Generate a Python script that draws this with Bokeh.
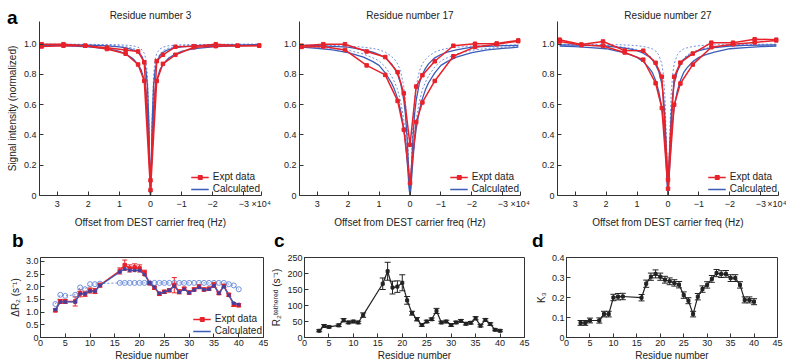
from bokeh.plotting import figure
from bokeh.layouts import column, row
from bokeh.models import (Range1d, FixedTicker, Legend, LegendItem, Whisker, Div,
                          TeeHead, ColumnDataSource, CustomJSTickFormatter)
from bokeh.embed import file_html
from bokeh.resources import INLINE

FONT = "Liberation Sans"
RED = "#e8222a"
BLUE = "#3b5cb8"
BLUE_DOT = "#6f8fdc"
AXC = "#333333"

# ---------------- Panel a data ----------------
offsets_hz = [35000, 28000, 21000, 14000, 8000, 4000, 2000, 0,
              -2000, -4000, -8000, -14000, -21000, -28000, -35000]
# calculated profiles (positive half, symmetric about 0)
calc_offsets_hz = [35000, 30000, 25000, 20000, 15000, 12000, 10000, 8000, 6000,
                   5000, 4000, 3000, 2000, 1500, 1000, 500, 200, 0]

res3_expt_a = [1.0, 1.0, 0.99, 0.977, 0.962, 0.952, 0.88, 0.10, 0.888, 0.93, 0.983, 0.987, 1.0, 0.99, 0.99]
res3_expt_b = [0.985, 0.99, 0.99, 0.968, 0.937, 0.866, 0.757, 0.035, 0.757, 0.87, 0.93, 0.98, 0.987, 0.99, 0.992]
res3_calc_broad = [0.993, 0.99, 0.987, 0.982, 0.972, 0.962, 0.952, 0.935, 0.91, 0.89, 0.866, 0.83, 0.76, 0.70, 0.58, 0.33, 0.10, 0.0]
res3_calc_narrow = [0.997, 0.996, 0.995, 0.993, 0.99, 0.986, 0.982, 0.975, 0.965, 0.957, 0.945, 0.925, 0.88, 0.83, 0.73, 0.46, 0.16, 0.0]
res3_dot_1 = [1.0, 1.0, 1.0, 0.999, 0.998, 0.997, 0.996, 0.994, 0.99, 0.986, 0.98, 0.968, 0.94, 0.9, 0.8, 0.5, 0.15, 0.0]
res3_dot_2 = [0.999, 0.999, 0.998, 0.997, 0.995, 0.992, 0.989, 0.984, 0.975, 0.968, 0.957, 0.935, 0.89, 0.84, 0.72, 0.42, 0.12, 0.0]

res17_expt_a = [0.99, 1.0, 1.0, 0.952, 0.915, 0.815, 0.675, 0.335, 0.72, 0.795, 0.887, 0.99, 1.003, 1.005, 1.025]
res17_expt_b = [0.982, 0.985, 0.962, 0.86, 0.797, 0.625, 0.435, 0.082, 0.485, 0.615, 0.757, 0.92, 0.982, 1.0, 1.02]
res17_calc_broad = [0.98, 0.972, 0.962, 0.945, 0.915, 0.885, 0.86, 0.81, 0.745, 0.70, 0.64, 0.56, 0.44, 0.36, 0.25, 0.11, 0.03, 0.0]
res17_calc_narrow = [0.992, 0.99, 0.986, 0.98, 0.962, 0.948, 0.932, 0.91, 0.87, 0.84, 0.80, 0.74, 0.63, 0.54, 0.40, 0.2, 0.06, 0.0]
res17_dot_1 = [0.995, 0.994, 0.992, 0.988, 0.98, 0.972, 0.963, 0.948, 0.92, 0.90, 0.87, 0.82, 0.72, 0.63, 0.48, 0.24, 0.07, 0.0]
res17_dot_2 = [0.985, 0.98, 0.972, 0.96, 0.935, 0.91, 0.89, 0.85, 0.79, 0.75, 0.70, 0.62, 0.50, 0.41, 0.29, 0.13, 0.04, 0.0]

res27_expt_a = [1.03, 0.998, 1.018, 0.958, 0.957, 0.877, 0.785, 0.105, 0.785, 0.878, 0.938, 1.01, 1.01, 1.033, 1.03]
res27_expt_b = [1.018, 0.995, 0.988, 0.945, 0.898, 0.742, 0.578, 0.045, 0.60, 0.74, 0.865, 0.98, 1.0, 1.012, 1.025]
res27_calc_broad = [0.988, 0.984, 0.978, 0.97, 0.948, 0.93, 0.913, 0.885, 0.84, 0.81, 0.76, 0.69, 0.58, 0.49, 0.36, 0.17, 0.05, 0.0]
res27_calc_narrow = [0.995, 0.994, 0.992, 0.988, 0.978, 0.968, 0.958, 0.94, 0.915, 0.895, 0.865, 0.82, 0.74, 0.66, 0.52, 0.28, 0.09, 0.0]
res27_dot_1 = [1.0, 1.0, 0.999, 0.998, 0.996, 0.993, 0.99, 0.985, 0.975, 0.968, 0.955, 0.93, 0.87, 0.8, 0.66, 0.36, 0.11, 0.0]
res27_dot_2 = [0.996, 0.995, 0.993, 0.99, 0.982, 0.973, 0.964, 0.95, 0.925, 0.905, 0.875, 0.83, 0.74, 0.65, 0.5, 0.25, 0.08, 0.0]

# tick at the right end (-35600) carries the "x10^4" exponent label
top_x_ticks = [30000, 20000, 10000, 0, -10000, -20000, -30000, -35600]
top_y_ticks = [0, 0.2, 0.4, 0.6, 0.8, 1.0]

# ---------------- Panels b, c, d data ----------------
residues = [3, 4, 5, 7, 8, 9, 10, 11, 12, 16, 17, 18, 19, 20, 21, 22, 23, 24, 25, 26,
            27, 28, 29, 30, 31, 32, 33, 34, 35, 36, 37, 38, 39, 40]
dR2_expt = [1.07, 1.42, 1.42, 1.42, 1.74, 1.72, 1.85, 1.83, 2.06, 2.62, 2.85, 2.72, 2.76, 2.72, 2.55,
            2.14, 1.96, 1.72, 1.8, 1.86, 2.06, 1.8, 1.92, 1.77, 1.89, 2.0, 1.89, 1.92, 2.07, 1.75,
            2.03, 1.68, 1.3, 1.27]
dR2_err = [0.06, 0.08, 0.08, 0.18, 0.14, 0.1, 0.1, 0.1, 0.08, 0.12, 0.2, 0.14, 0.14, 0.14, 0.1,
           0.06, 0.06, 0.06, 0.06, 0.06, 0.3, 0.08, 0.06, 0.06, 0.06, 0.08, 0.06, 0.06, 0.1, 0.06,
           0.06, 0.06, 0.08, 0.06]
dR2_calc = [1.1, 1.4, 1.4, 1.4, 1.72, 1.72, 1.83, 1.82, 2.05, 2.58, 2.7, 2.64, 2.64, 2.64, 2.47,
            2.15, 1.98, 1.74, 1.79, 1.86, 2.02, 1.78, 1.9, 1.76, 1.87, 1.98, 1.88, 1.9, 2.04, 1.74,
            2.0, 1.66, 1.35, 1.3]
dR2_calc_uniform = [1.32, 1.68, 1.64, 1.68, 1.97, 1.9, 2.1, 2.1, 2.12, 2.15, 2.15, 2.15, 2.15, 2.15,
                    2.15, 2.15, 2.15, 2.15, 2.15, 2.15, 2.15, 2.15, 2.15, 2.15, 2.15, 2.15, 2.15,
                    2.15, 2.15, 2.15, 2.15, 2.1, 2.05, 1.9]
R2_teth = [21, 36, 33, 38, 54, 47, 50, 47, 70, 168, 207, 156, 159, 171, 116, 76, 57, 39, 50, 57,
           83, 47, 50, 39, 47, 52, 43, 46, 60, 37, 55, 42, 24, 21]
R2_teth_err = [3, 4, 3, 4, 5, 4, 4, 4, 7, 18, 28, 20, 18, 25, 12, 6, 5, 4, 4, 4, 8, 4, 4, 4, 4,
               4, 4, 4, 5, 4, 4, 4, 3, 3]
K3 = [0.073, 0.073, 0.085, 0.085, 0.117, 0.117, 0.20, 0.204, 0.205, 0.199, 0.269, 0.304, 0.318,
      0.304, 0.289, 0.281, 0.273, 0.264, 0.212, 0.184, 0.117, 0.204, 0.242, 0.263, 0.293, 0.322,
      0.317, 0.318, 0.297, 0.297, 0.263, 0.188, 0.188, 0.179]
K3_err = [0.012, 0.012, 0.012, 0.013, 0.014, 0.014, 0.016, 0.016, 0.016, 0.016, 0.018, 0.018, 0.02,
          0.018, 0.017, 0.017, 0.016, 0.016, 0.016, 0.015, 0.014, 0.016, 0.016, 0.016, 0.017, 0.018,
          0.017, 0.017, 0.017, 0.017, 0.016, 0.015, 0.015, 0.015]
bottom_x_ticks = [0, 5, 10, 15, 20, 25, 30, 35, 40, 45]


def style(p, box):
    p.grid.visible = False
    p.background_fill_color = "white"
    p.border_fill_color = "white"
    p.outline_line_color = AXC if box else None
    for ax in p.axis:
        ax.major_tick_in = 4
        ax.major_tick_out = 0
        ax.minor_tick_line_color = None
        ax.axis_line_color = AXC
        ax.major_tick_line_color = AXC
        ax.major_label_text_font = FONT
        ax.major_label_text_font_size = "9px"
        ax.major_label_text_color = "#222222"
        ax.axis_label_text_font = FONT
        ax.axis_label_text_font_size = "10px"
        ax.axis_label_text_font_style = "normal"
        ax.axis_label_text_color = "#222222"
        ax.major_label_standoff = 3
        ax.axis_label_standoff = 3


def make_legend(p, items):
    lg = Legend(items=items, location="bottom_right", border_line_color=None,
                background_fill_alpha=0, label_text_font=FONT, label_text_font_size="10px",
                label_text_color="#222222", glyph_width=18, glyph_height=10, label_height=10,
                spacing=1, padding=1, margin=1, label_standoff=4)
    p.add_layout(lg)


def full(half):
    return half + half[-2::-1]


calc_x = calc_offsets_hz + [-v for v in calc_offsets_hz[-2::-1]]

TOP_H = 230
TOP_BT = 21
TOP_BB = 34

X_FMT = """
if (tick < -35000) { return '\\u00d710\\u2074'; }
const v = Math.round(tick/10000);
return v < 0 ? '\\u2212' + Math.abs(v) : String(v);
"""


def top_panel(title, ea, eb, broad, narrow, d1, d2, width, left, right, ylabel):
    p = figure(width=width, height=TOP_H, x_range=Range1d(35700, -35700), y_range=Range1d(0, 1.15),
               output_backend="svg", toolbar_location=None, min_border_left=left,
               min_border_right=right, min_border_top=TOP_BT, min_border_bottom=TOP_BB)
    p.title.text = title
    p.title.align = "center"
    p.title.text_font = FONT
    p.title.text_font_size = "10px"
    p.title.text_font_style = "normal"
    p.title.text_color = "#222222"
    p.title.standoff = 2
    p.line(calc_x, full(d1), line_color=BLUE_DOT, line_width=1, line_dash="2 2")
    p.line(calc_x, full(d2), line_color=BLUE_DOT, line_width=1, line_dash="2 2")
    bl = p.line(calc_x, full(broad), line_color=BLUE, line_width=1.3)
    p.line(calc_x, full(narrow), line_color=BLUE, line_width=1.3)
    ra = p.line(offsets_hz, ea, line_color=RED, line_width=1.5)
    sa = p.scatter(offsets_hz, ea, marker="square", size=3.5, color=RED)
    p.line(offsets_hz, eb, line_color=RED, line_width=1.5)
    p.scatter(offsets_hz, eb, marker="square", size=3.5, color=RED)
    p.xaxis.ticker = FixedTicker(ticks=top_x_ticks)
    p.xaxis.formatter = CustomJSTickFormatter(code=X_FMT)
    p.yaxis.ticker = FixedTicker(ticks=top_y_ticks)
    p.yaxis.formatter = CustomJSTickFormatter(code="return tick == 0 ? '0' : tick.toFixed(1);")
    p.xaxis.axis_label = "Offset from DEST carrier freq (Hz)"
    if ylabel:
        p.yaxis.axis_label = ylabel
    style(p, False)
    p.xaxis.axis_label_standoff = 5
    make_legend(p, [LegendItem(label="Expt data", renderers=[ra, sa]),
                    LegendItem(label="Calculated", renderers=[bl])])
    return p


a1 = top_panel("Residue number 3", res3_expt_a, res3_expt_b, res3_calc_broad, res3_calc_narrow,
               res3_dot_1, res3_dot_2, 280, 39, 19, "Signal intensity (normalized)")
a2 = top_panel("Residue number 17", res17_expt_a, res17_expt_b, res17_calc_broad, res17_calc_narrow,
               res17_dot_1, res17_dot_2, 258, 18, 18, None)
a3 = top_panel("Residue number 27", res27_expt_a, res27_expt_b, res27_calc_broad, res27_calc_narrow,
               res27_dot_1, res27_dot_2, 248, 18, 8, None)

BOT_H = 133
BOT_BT = 27
BOT_BB = 26


def bottom_fig(width, left, right, ymax):
    p = figure(width=width, height=BOT_H, x_range=Range1d(0, 45), y_range=Range1d(0, ymax),
               output_backend="svg", toolbar_location=None, min_border_left=left,
               min_border_right=right, min_border_top=BOT_BT, min_border_bottom=BOT_BB)
    p.xaxis.ticker = FixedTicker(ticks=bottom_x_ticks)
    p.xaxis.axis_label = "Residue number"
    return p


def finish_bottom(p):
    style(p, True)
    p.xaxis.major_label_standoff = 2
    p.xaxis.axis_label_standoff = 1
    p.yaxis.major_label_standoff = 2
    p.yaxis.axis_label_standoff = 2


def whiskers(p, ys, errs, color, head=5):
    src = ColumnDataSource(dict(x=residues, lo=[v - e for v, e in zip(ys, errs)],
                                hi=[v + e for v, e in zip(ys, errs)]))
    p.add_layout(Whisker(source=src, base="x", lower="lo", upper="hi", line_color=color,
                         line_width=1,
                         upper_head=TeeHead(size=head, line_color=color, line_width=1),
                         lower_head=TeeHead(size=head, line_color=color, line_width=1)))


# panel b
b = bottom_fig(268, 40, 5, 3.15)
b.line(residues, dR2_calc_uniform, line_color=BLUE_DOT, line_width=1, line_dash="2 2")
b.scatter(residues, dR2_calc_uniform, marker="circle", size=5, fill_color=None,
          line_color=BLUE_DOT, line_width=1)
rb = b.line(residues, dR2_expt, line_color=RED, line_width=1.5)
sb = b.scatter(residues, dR2_expt, marker="square", size=3.5, color=RED)
whiskers(b, dR2_expt, dR2_err, RED)
cb = b.line(residues, dR2_calc, line_color=BLUE, line_width=1.3)
b.scatter(residues, dR2_calc, marker="square", size=2.5, color="#4a3f9a")
b.yaxis.ticker = FixedTicker(ticks=[0, 0.5, 1.0, 1.5, 2.0, 2.5, 3.0])
b.yaxis.formatter = CustomJSTickFormatter(code="return tick == 0 ? '0' : tick.toFixed(1);")
b.yaxis.axis_label = "\u0394R\u2082 (s\u207b\u00b9)"
finish_bottom(b)
make_legend(b, [LegendItem(label="Expt data", renderers=[rb, sb]),
                LegendItem(label="Calculated", renderers=[cb])])

# panel c
c = bottom_fig(264, 34, 8, 250)
c.line(residues, R2_teth, line_color="#222222", line_width=1.2)
c.scatter(residues, R2_teth, marker="square", size=3, color="#222222")
whiskers(c, R2_teth, R2_teth_err, "#222222", head=6)
c.yaxis.ticker = FixedTicker(ticks=[0, 50, 100, 150, 200, 250])
c.yaxis.axis_label = "R\u2082\u1d57\u1d49\u1d57\u02b0\u1d49\u02b3\u1d49\u1d48 (s\u207b\u00b9)"
finish_bottom(c)

# panel d
d = bottom_fig(254, 29, 9, 0.4)
d.line(residues, K3, line_color="#222222", line_width=1.2)
d.scatter(residues, K3, marker="square", size=3, color="#222222")
whiskers(d, K3, K3_err, "#222222", head=6)
d.yaxis.ticker = FixedTicker(ticks=[0, 0.1, 0.2, 0.3, 0.4])
d.yaxis.formatter = CustomJSTickFormatter(code="return tick == 0 ? '0' : tick.toFixed(1);")
d.yaxis.axis_label = "K\u2083"
finish_bottom(d)


def label_div(text, left, top):
    return Div(text=text, width=20, height=22, margin=0,
               styles={"position": "absolute", "left": f"{left}px", "top": f"{top}px",
                       "font-family": FONT, "font-size": "19px", "font-weight": "bold",
                       "line-height": "1", "color": "black", "z-index": "10"})


layout = column(row(a1, a2, a3), row(b, c, d),
                label_div("a", 7, 8), label_div("b", 12, 231),
                label_div("c", 274, 231), label_div("d", 532, 231))
open("out.html", "w").write(file_html(layout, INLINE))
